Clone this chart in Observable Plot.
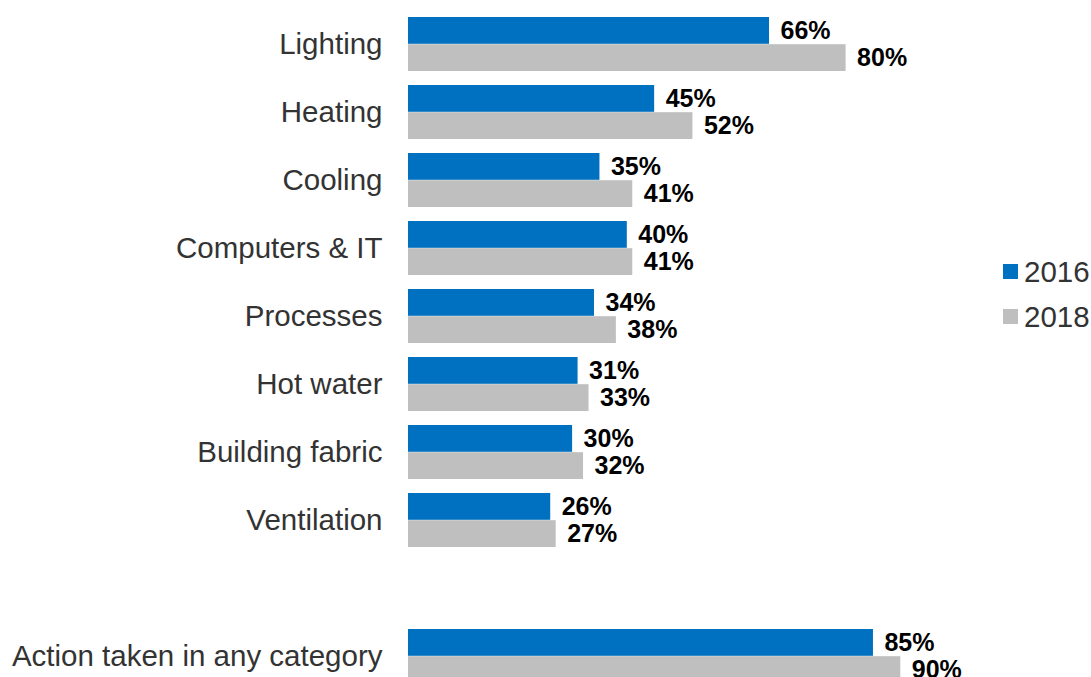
<!DOCTYPE html>
<html>
<head>
<meta charset="utf-8">
<script src="https://cdn.jsdelivr.net/npm/d3@7"></script>
<script src="https://cdn.jsdelivr.net/npm/@observablehq/plot@0.6"></script>
<style>
  html, body { margin: 0; padding: 0; background: #fff; overflow: hidden; }
  #wrap { position: relative; width: 1091px; height: 677px; font-family: "Liberation Sans", Arial, sans-serif; }
  #chart svg { display: block; }
  .legend { position: absolute; left: 1003px; top: 257px; }
  .legend .item { display: flex; align-items: center; height: 29px; font-size: 29.5px; line-height: 1; color: #333; margin-bottom: 16px; }
  .legend .sw { width: 15px; height: 15px; margin-right: 6px; flex: none; }
</style>
</head>
<body>
<div id="wrap">
  <div id="chart"></div>
  <div class="legend" id="legend"></div>
</div>
<script>
const categories = ["Lighting", "Heating", "Cooling", "Computers & IT", "Processes", "Hot water", "Building fabric", "Ventilation", "Action taken in any category"];
const values2016 = [66, 45, 35, 40, 34, 31, 30, 26, 85];
const values2018 = [80, 52, 41, 41, 38, 33, 32, 27, 90];
const years = ["2016", "2018"];
const colors = ["#0070C0", "#BFBFBF"];

// spacer row between the individual categories and the summary row
const spacer = " ";
const yDomain = [...categories.slice(0, 8), spacer, categories[8]];

const data2016 = categories.map((c, i) => ({category: c, year: years[0], value: values2016[i]}));
const data2018 = categories.map((c, i) => ({category: c, year: years[1], value: values2018[i]}));

const step = 68;
const half = step * 0.8 / 2;

const chart = Plot.plot({
  width: 1091,
  height: 677,
  marginLeft: 408,
  marginRight: 0,
  marginTop: 0,
  marginBottom: 0,
  style: {fontFamily: "'Liberation Sans', Arial, sans-serif", background: "#fff"},
  x: {domain: [0, 100], range: [408, 955], axis: null},
  y: {domain: yDomain, range: [10.2, 10.2 + step * 10], paddingInner: 0.2, paddingOuter: 0.1, axis: null},
  color: {domain: years, range: colors},
  marks: [
    Plot.barX(data2016, {x: "value", y: "category", fill: "year", insetBottom: half}),
    Plot.barX(data2018, {x: "value", y: "category", fill: "year", insetTop: half}),
    Plot.text(data2016, {x: "value", y: "category", text: d => d.value + "%", dx: 11, dy: -half / 2, textAnchor: "start", fontWeight: "bold", fontSize: 25, fill: "#000"}),
    Plot.text(data2018, {x: "value", y: "category", text: d => d.value + "%", dx: 11, dy: half / 2, textAnchor: "start", fontWeight: "bold", fontSize: 25, fill: "#000"}),
    Plot.axisY({tickSize: 0, tickPadding: 26, fontSize: 29.5, fill: "#333", label: null, textAnchor: "end"})
  ]
});
document.getElementById("chart").appendChild(chart);

const legend = document.getElementById("legend");
years.forEach((y, i) => {
  const item = document.createElement("div");
  item.className = "item";
  const sw = document.createElement("span");
  sw.className = "sw";
  sw.style.background = colors[i];
  const t = document.createElement("span");
  t.textContent = y;
  item.appendChild(sw);
  item.appendChild(t);
  legend.appendChild(item);
});
</script>
</body>
</html>
